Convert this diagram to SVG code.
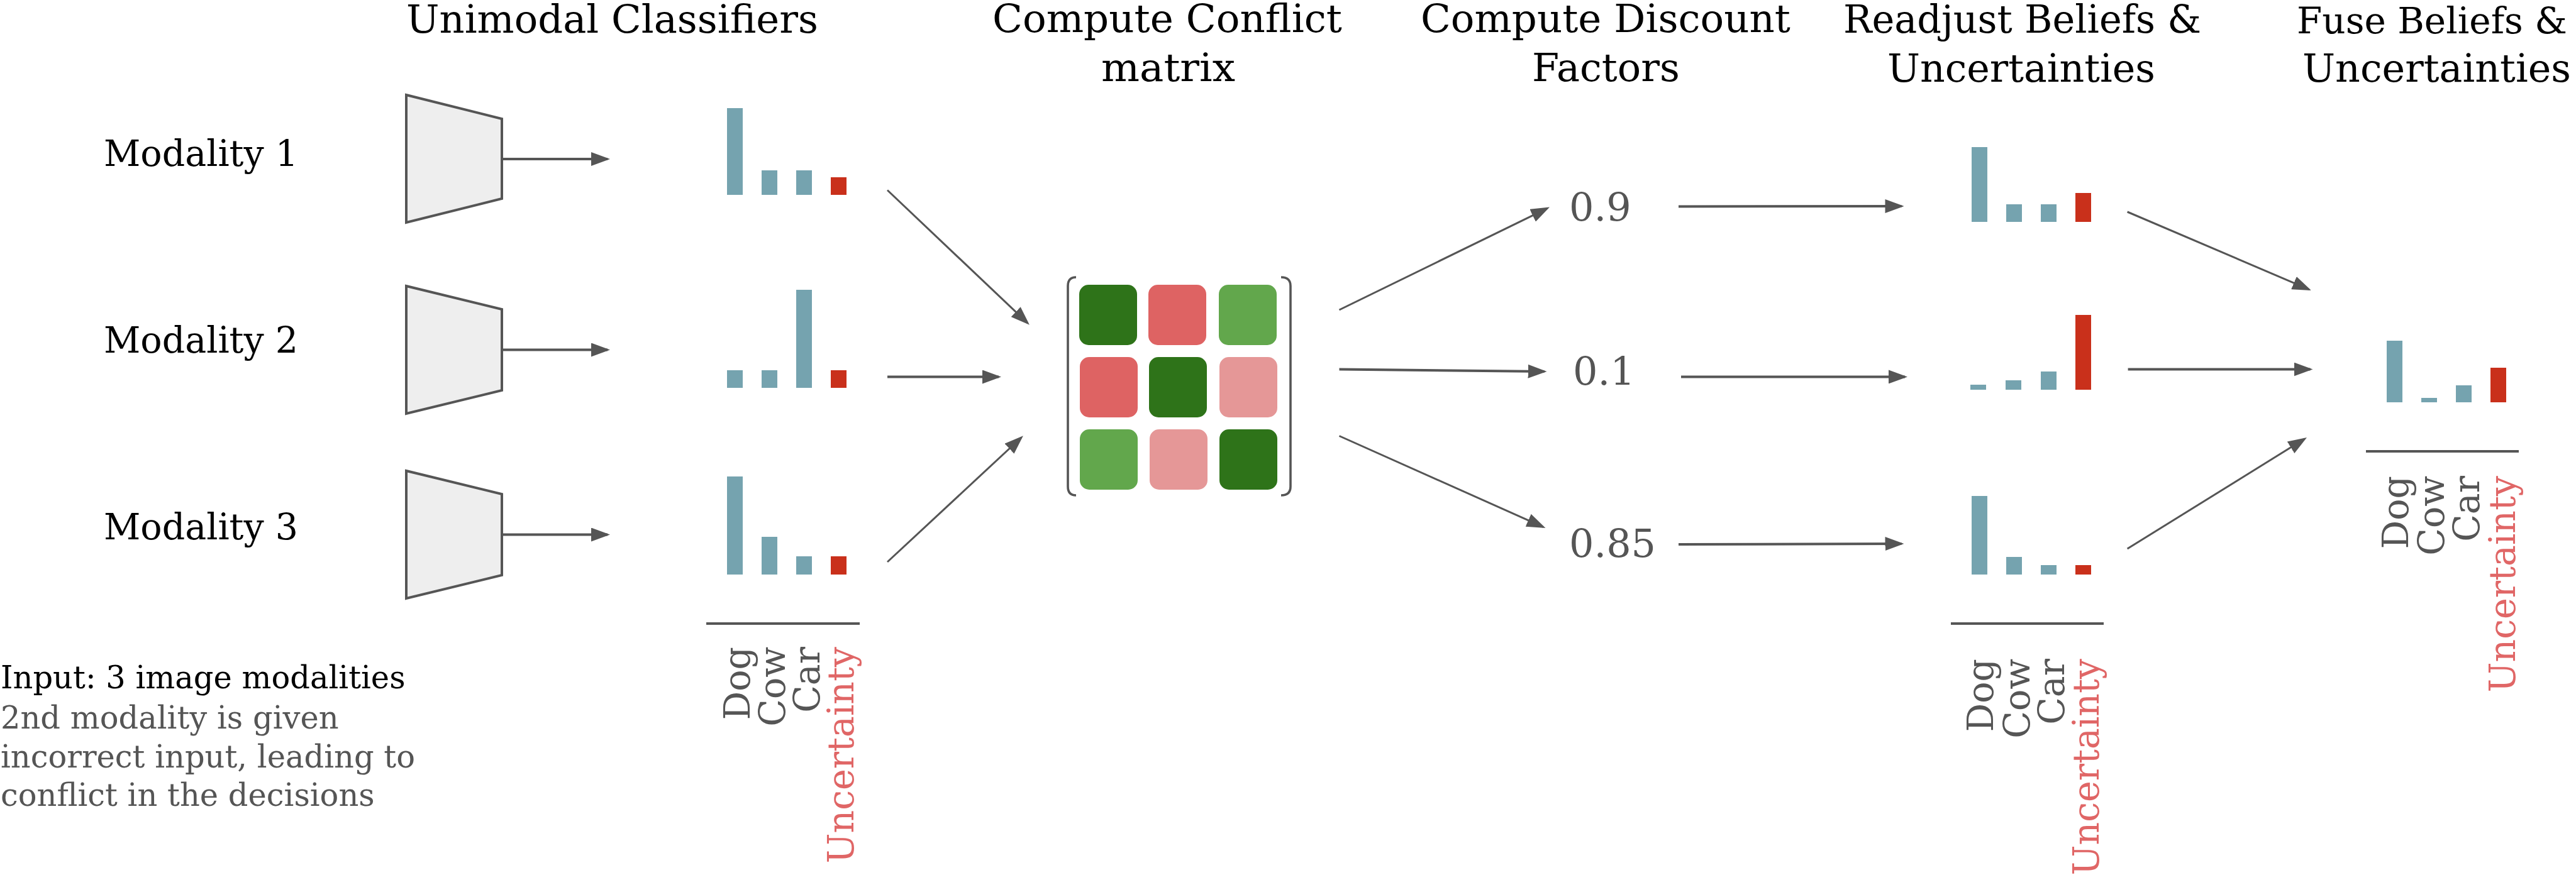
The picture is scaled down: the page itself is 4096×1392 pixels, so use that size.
<svg xmlns="http://www.w3.org/2000/svg" width="4096" height="1392" viewBox="0 0 4096 1392">
<style>
text{font-family:"DejaVu Serif","Liberation Serif",serif}
.title{font-size:62px;fill:#000}
.mod{font-size:57px;fill:#000}
.num{font-size:62px;fill:#555}
.note{font-size:49.5px;fill:#555}
.lab{font-size:57px;fill:#555;text-anchor:end}
.labu{font-size:57px;fill:#E06666;text-anchor:end}
.trap{fill:#EEEEEE;stroke:#555;stroke-width:4;stroke-linejoin:miter}
.b{fill:#75A3AF}
.u{fill:#C9301B}
.axis{stroke:#555;stroke-width:4}
.h{stroke:#555;stroke-width:4;fill:none;marker-end:url(#ah)}
.d{stroke:#555;stroke-width:3;fill:none;marker-end:url(#ah)}
.br{stroke:#555;stroke-width:3.6;fill:none}
.dg{fill:#2E7319}.rd{fill:#DE6363}.lg{fill:#62A74C}.pk{fill:#E59797}
</style>
<defs>
<marker id="ah" markerUnits="userSpaceOnUse" markerWidth="30" markerHeight="22" refX="26" refY="11" orient="auto">
<path d="M0,0 L30,11 L0,22 z" fill="#555"/>
</marker>
</defs>
<rect width="4096" height="1392" fill="#fff"/>

<g id="titles">
<text class="title" x="646" y="52" textLength="655" lengthAdjust="spacingAndGlyphs">Unimodal Classifiers</text>
<text class="title" x="1578" y="51" textLength="556" lengthAdjust="spacingAndGlyphs">Compute Conflict</text>
<text class="title" x="1751" y="129" textLength="213" lengthAdjust="spacingAndGlyphs">matrix</text>
<text class="title" x="2259" y="51" textLength="588" lengthAdjust="spacingAndGlyphs">Compute Discount</text>
<text class="title" x="2436" y="129" textLength="235" lengthAdjust="spacingAndGlyphs">Factors</text>
<text class="title" x="2931" y="52" textLength="569" lengthAdjust="spacingAndGlyphs">Readjust Beliefs &amp;</text>
<text class="title" x="3001" y="130" textLength="426" lengthAdjust="spacingAndGlyphs">Uncertainties</text>
<text class="title" x="3652" y="53" style="font-size:58.5px" textLength="430" lengthAdjust="spacingAndGlyphs">Fuse Beliefs &amp;</text>
<text class="title" x="3661" y="130" textLength="427" lengthAdjust="spacingAndGlyphs">Uncertainties</text>
</g>

<g id="modality1">
<text class="mod" x="165" y="264">Modality 1</text>
<polygon class="trap" points="646,151 798,189 798,316 646,354"/>
</g>
<g id="modality2">
<text class="mod" x="165" y="561">Modality 2</text>
<polygon class="trap" points="646,455 798,492 798,621 646,658"/>
</g>
<g id="modality3">
<text class="mod" x="165" y="858">Modality 3</text>
<polygon class="trap" points="646,749 798,786 798,915 646,952"/>
</g>

<g id="note">
<text x="1" y="1095" style="font-size:49.5px;fill:#000">Input: 3 image modalities</text>
<text class="note" x="1" y="1159">2nd modality is given</text>
<text class="note" x="1" y="1221">incorrect input, leading to</text>
<text class="note" x="1" y="1282">conflict in the decisions</text>
</g>

<g id="unimodal-bars1">
<rect class="b" x="1156" y="172" width="25" height="138"/>
<rect class="b" x="1211" y="271" width="25" height="39"/>
<rect class="b" x="1266" y="271" width="25" height="39"/>
<rect class="u" x="1321" y="282" width="25" height="28"/>
</g>
<g id="unimodal-bars2">
<rect class="b" x="1156" y="589" width="25" height="28"/>
<rect class="b" x="1211" y="589" width="25" height="28"/>
<rect class="b" x="1266" y="461" width="25" height="156"/>
<rect class="u" x="1321" y="589" width="25" height="28"/>
</g>
<g id="unimodal-bars3">
<rect class="b" x="1156" y="758" width="25" height="156"/>
<rect class="b" x="1211" y="854" width="25" height="60"/>
<rect class="b" x="1266" y="885" width="25" height="29"/>
<rect class="u" x="1321" y="885" width="25" height="29"/>
</g>
<g id="unimodal-axis">
<line class="axis" x1="1123" y1="992" x2="1367" y2="992"/>
<text class="lab" transform="translate(1192,1029) rotate(-90)">Dog</text>
<text class="lab" transform="translate(1248,1029) rotate(-90)">Cow</text>
<text class="lab" transform="translate(1303,1029) rotate(-90)">Car</text>
<text class="labu" transform="translate(1357,1029) rotate(-90)">Uncertainty</text>
</g>

<g id="conflict-matrix">
<path class="br" d="M1711,441 Q1698,441 1698,455 L1698,774 Q1698,788 1711,788"/>
<path class="br" d="M2037,441 Q2052,441 2052,455 L2052,774 Q2052,788 2037,788"/>
<rect class="dg" x="1716" y="453" width="92" height="96" rx="15"/>
<rect class="rd" x="1826" y="453" width="92" height="96" rx="15"/>
<rect class="lg" x="1938" y="453" width="92" height="96" rx="15"/>
<rect class="rd" x="1717" y="568" width="92" height="96" rx="15"/>
<rect class="dg" x="1827" y="568" width="92" height="96" rx="15"/>
<rect class="pk" x="1939" y="568" width="92" height="96" rx="15"/>
<rect class="lg" x="1717" y="683" width="92" height="96" rx="15"/>
<rect class="pk" x="1828" y="683" width="92" height="96" rx="15"/>
<rect class="dg" x="1939" y="683" width="92" height="96" rx="15"/>
</g>

<g id="factor1"><text class="num" x="2495" y="351">0.9</text></g>
<g id="factor2"><text class="num" x="2501" y="612">0.1</text></g>
<g id="factor3"><text class="num" x="2495" y="886">0.85</text></g>

<g id="readjust-bars1">
<rect class="b" x="3135" y="234" width="25" height="119"/>
<rect class="b" x="3190" y="325" width="25" height="28"/>
<rect class="b" x="3245" y="325" width="25" height="28"/>
<rect class="u" x="3300" y="307" width="25" height="46"/>
</g>
<g id="readjust-bars2">
<rect class="b" x="3133" y="612" width="25" height="8"/>
<rect class="b" x="3189" y="605" width="25" height="15"/>
<rect class="b" x="3245" y="591" width="25" height="29"/>
<rect class="u" x="3300" y="501" width="25" height="119"/>
</g>
<g id="readjust-bars3">
<rect class="b" x="3135" y="789" width="25" height="125"/>
<rect class="b" x="3190" y="886" width="25" height="28"/>
<rect class="b" x="3245" y="899" width="25" height="15"/>
<rect class="u" x="3300" y="899" width="25" height="15"/>
</g>
<g id="readjust-axis">
<line class="axis" x1="3102" y1="992" x2="3345" y2="992"/>
<text class="lab" transform="translate(3169,1048) rotate(-90)">Dog</text>
<text class="lab" transform="translate(3227,1048) rotate(-90)">Cow</text>
<text class="lab" transform="translate(3282,1048) rotate(-90)">Car</text>
<text class="labu" transform="translate(3337,1048) rotate(-90)">Uncertainty</text>
</g>

<g id="fused-bars">
<rect class="b" x="3795" y="542" width="25" height="98"/>
<rect class="b" x="3850" y="633" width="25" height="7"/>
<rect class="b" x="3905" y="613" width="25" height="27"/>
<rect class="u" x="3960" y="585" width="25" height="55"/>
</g>
<g id="fused-axis">
<line class="axis" x1="3762" y1="718" x2="4005" y2="718"/>
<text class="lab" transform="translate(3829,757) rotate(-90)">Dog</text>
<text class="lab" transform="translate(3886,757) rotate(-90)">Cow</text>
<text class="lab" transform="translate(3942,757) rotate(-90)">Car</text>
<text class="labu" transform="translate(3999,757) rotate(-90)">Uncertainty</text>
</g>

<g id="connectors">
<line class="h" x1="798" y1="253" x2="966" y2="253"/>
<line class="h" x1="798" y1="556.5" x2="966" y2="556.5"/>
<line class="h" x1="798" y1="850.5" x2="966" y2="850.5"/>
<line class="d" x1="1411" y1="302.5" x2="1634" y2="514"/>
<line class="h" x1="1411" y1="599.5" x2="1588" y2="599.5"/>
<line class="d" x1="1411" y1="894" x2="1624" y2="696"/>
<line class="d" x1="2129.5" y1="493" x2="2460.4" y2="331.3"/>
<line class="h" x1="2129.5" y1="587.6" x2="2455.6" y2="591"/>
<line class="d" x1="2129.5" y1="693.5" x2="2453.8" y2="838.4"/>
<line class="h" x1="2669" y1="328.4" x2="3023.5" y2="328"/>
<line class="h" x1="2673" y1="599.6" x2="3029" y2="599.4"/>
<line class="h" x1="2669" y1="866" x2="3023.5" y2="865"/>
<line class="d" x1="3382.6" y1="337" x2="3671.3" y2="460.4"/>
<line class="h" x1="3383.6" y1="587.5" x2="3673.5" y2="587.5"/>
<line class="d" x1="3382.6" y1="873" x2="3664.6" y2="698.1"/>
</g>
</svg>
